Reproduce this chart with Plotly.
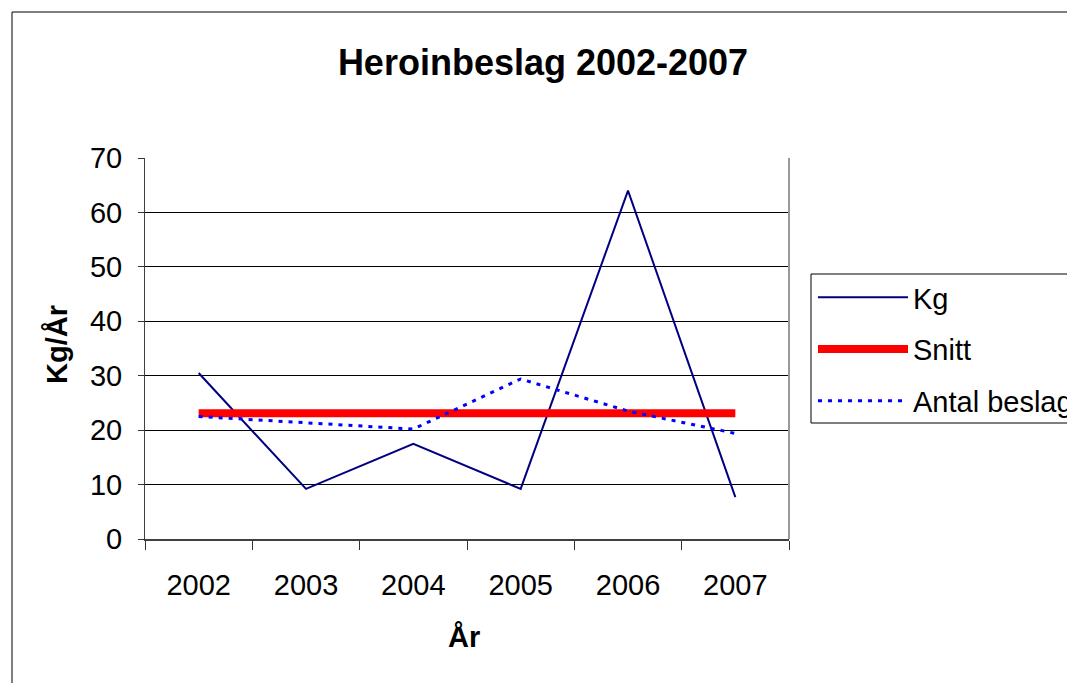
import plotly.graph_objects as go

years = ["2002", "2003", "2004", "2005", "2006", "2007"]
kg = [30.5, 9.2, 17.5, 9.2, 64.0, 7.7]
snitt = [23.1, 23.1, 23.1, 23.1, 23.1, 23.1]
antal = [22.5, 21.4, 20.2, 29.4, 23.5, 19.4]

FONT = "Liberation Sans, Arial, sans-serif"
OFF = 8  # browser body margin

fig = go.Figure()
fig.add_trace(go.Scatter(x=years, y=kg, name="Kg", mode="lines", legendgroup="a",
                         line=dict(color="#000080", width=2)))
fig.add_trace(go.Scatter(x=years, y=snitt, name="Snitt", mode="lines", legendgroup="b",
                         line=dict(color="#FF0000", width=8)))
fig.add_trace(go.Scatter(x=years, y=antal, name="Antal beslag", mode="lines", legendgroup="c",
                         line=dict(color="#0000FF", width=3, dash="4px,6px")))

W, H = 1075 - OFF, 683 - OFF
L, R, T, B = 145 - OFF, 789 - OFF, 158 - OFF, 539 - OFF
pw, ph = R - L, B - T

def px(x):
    return (x - OFF - L) / pw

def py(y):
    return (B - (y - OFF)) / ph

fig.update_layout(
    width=W, height=H,
    margin=dict(l=L, r=W - R, t=T, b=H - B, pad=0, autoexpand=False),
    paper_bgcolor="white", plot_bgcolor="white",
    font=dict(family=FONT, size=29, color="black"),
    title=dict(text="<b>Heroinbeslag 2002-2007</b>", x=(543 - OFF) / W, xanchor="center",
               y=1 - (62 - OFF) / H, yanchor="middle", yref="container",
               font=dict(family=FONT, size=36, color="black")),
    xaxis=dict(type="category", tickson="boundaries", range=[-0.5, 5.5],
               ticks="outside", ticklen=9, tickwidth=1,
               tickcolor="#333333", showline=True, linecolor="#404040", linewidth=2,
               mirror=False, showgrid=False, ticklabelstandoff=19,
               tickfont=dict(family=FONT, size=29, color="black")),
    yaxis=dict(range=[0, 70], dtick=10, tick0=0, ticks="outside", ticklen=6,
               tickcolor="#333333", showline=True, linecolor="#404040", linewidth=1,
               mirror=False, showgrid=True, gridcolor="black", gridwidth=1,
               zeroline=False, ticklabelstandoff=10,
               tickfont=dict(family=FONT, size=29, color="black")),
    legend=dict(x=px(813), xanchor="left", y=py(272), yanchor="top",
                borderwidth=0, bgcolor="rgba(0,0,0,0)",
                font=dict(family=FONT, size=29, color="black"),
                itemwidth=90, tracegroupgap=11),
    showlegend=True,
)

# grey right border of the plot area
fig.add_shape(type="line", xref="paper", yref="paper", x0=1, x1=1, y0=0, y1=1,
              line=dict(color="#999999", width=2))

# legend frame (runs off the right edge like the original)
fig.add_shape(type="rect", xref="paper", yref="paper",
              x0=px(811), x1=px(1300), y0=py(423), y1=py(274),
              line=dict(color="black", width=1), fillcolor="white", layer="below")

fig.add_annotation(text="<b>År</b>", xref="paper", yref="paper",
                   x=px(464), y=py(637), showarrow=False,
                   xanchor="center", yanchor="middle",
                   font=dict(family=FONT, size=29, color="black"))
fig.add_annotation(text="<b>Kg/År</b>", xref="paper", yref="paper",
                   x=px(57), y=py(345), showarrow=False, textangle=-90,
                   xanchor="center", yanchor="middle",
                   font=dict(family=FONT, size=29, color="black"))

# outer chart frame
fig.add_shape(type="rect", xref="paper", yref="paper",
              x0=px(12), x1=px(1300),
              y0=py(900), y1=py(12),
              line=dict(color="black", width=1), fillcolor="rgba(0,0,0,0)", layer="below")

fig.write_html("out.html")
